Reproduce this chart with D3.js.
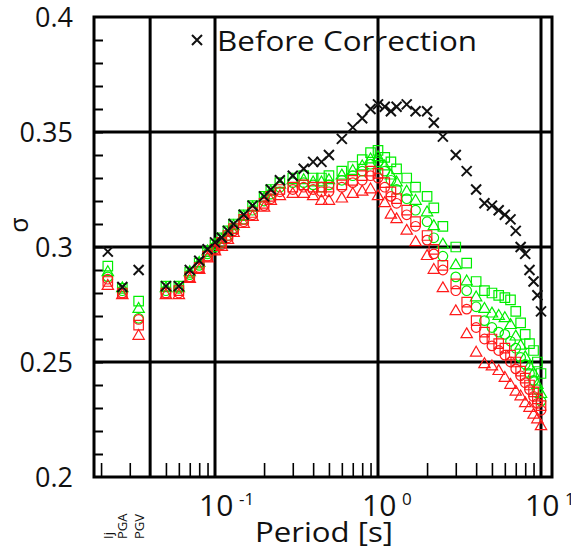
<!DOCTYPE html>
<html><head><meta charset="utf-8">
<script src="https://cdn.jsdelivr.net/npm/d3@7"></script>
<style>body{margin:0;background:#fff}svg{display:block}text{font-family:"Open Sans",sans-serif;fill:#111}</style>
</head><body>
<svg id="chart" width="571" height="552"></svg>
<script>
// ---- data ----
const periods = [0.05,0.06,0.07,0.08,0.09,0.1,0.11,0.12,0.13,0.15,0.17,0.2,0.22,0.25,0.3,0.35,0.4,0.45,0.5,0.6,0.7,0.8,0.9,1.0,1.1,1.2,1.3,1.5,1.7,2.0,2.2,2.5,3.0,3.5,4.0,4.5,5.0,5.5,6.0,6.5,7.0,7.5,8.0,8.5,9.0,9.5,10];
const beforeCorrection = [0.283,0.283,0.290,0.294,0.299,0.302,0.304,0.307,0.310,0.314,0.318,0.322,0.325,0.329,0.331,0.334,0.337,0.337,0.340,0.347,0.352,0.356,0.360,0.362,0.361,0.359,0.361,0.362,0.359,0.359,0.354,0.348,0.340,0.333,0.325,0.319,0.318,0.316,0.314,0.312,0.307,0.300,0.297,0.290,0.285,0.279,0.272];
const redTriangle = [0.279,0.279,0.286,0.290,0.295,0.298,0.300,0.303,0.306,0.310,0.313,0.317,0.320,0.322,0.323,0.323,0.322,0.320,0.320,0.321,0.323,0.324,0.325,0.322,0.319,0.314,0.312,0.307,0.302,0.296,0.290,0.282,0.272,0.262,0.254,0.249,0.248,0.246,0.243,0.240,0.237,0.235,0.232,0.230,0.227,0.225,0.222];
const redCircle = [0.280,0.280,0.287,0.291,0.296,0.299,0.301,0.304,0.307,0.311,0.314,0.318,0.321,0.324,0.325,0.326,0.325,0.324,0.324,0.326,0.328,0.329,0.331,0.330,0.326,0.322,0.319,0.314,0.309,0.303,0.297,0.290,0.281,0.273,0.265,0.260,0.257,0.255,0.253,0.250,0.247,0.244,0.241,0.238,0.235,0.232,0.229];
const redSquare = [0.280,0.281,0.287,0.291,0.296,0.299,0.302,0.305,0.308,0.312,0.315,0.319,0.322,0.325,0.326,0.327,0.326,0.326,0.326,0.327,0.329,0.331,0.333,0.332,0.328,0.324,0.321,0.316,0.311,0.305,0.299,0.292,0.284,0.276,0.268,0.263,0.260,0.258,0.256,0.253,0.250,0.246,0.243,0.240,0.237,0.234,0.231];
const greenCircle = [0.281,0.282,0.288,0.292,0.297,0.300,0.302,0.305,0.308,0.312,0.316,0.320,0.323,0.326,0.328,0.328,0.327,0.326,0.327,0.329,0.331,0.333,0.336,0.337,0.333,0.329,0.325,0.321,0.316,0.311,0.304,0.296,0.287,0.281,0.274,0.268,0.265,0.263,0.262,0.259,0.256,0.252,0.249,0.245,0.242,0.238,0.233];
const greenTriangle = [0.282,0.282,0.289,0.293,0.298,0.301,0.303,0.306,0.309,0.313,0.317,0.321,0.324,0.327,0.329,0.329,0.328,0.328,0.329,0.331,0.333,0.335,0.338,0.339,0.335,0.331,0.328,0.324,0.320,0.315,0.309,0.301,0.292,0.285,0.278,0.273,0.271,0.270,0.269,0.266,0.261,0.257,0.252,0.248,0.245,0.240,0.236];
const greenSquare = [0.283,0.283,0.289,0.293,0.298,0.301,0.304,0.307,0.310,0.314,0.318,0.322,0.325,0.328,0.330,0.331,0.330,0.330,0.331,0.333,0.335,0.338,0.341,0.342,0.339,0.337,0.334,0.330,0.326,0.322,0.317,0.309,0.300,0.293,0.285,0.281,0.280,0.279,0.278,0.277,0.272,0.267,0.262,0.258,0.255,0.250,0.245];

// intensity / PGA / PGV entries shown at the left of the period axis
const scalarLabels = ["Ij","PGA","PGV"];
const scalarSlots = [0.022,0.027,0.034];   // slot on the period axis
const scalarBefore = [0.298,0.2826,0.290];
const scalarRedTriangle = [0.283,0.279,0.2613];
const scalarRedCircle = [0.286,0.280,0.2685];
const scalarRedSquare = [0.285,0.280,0.266];
const scalarGreenCircle = [0.287,0.281,0.269];
const scalarGreenTriangle = [0.289,0.282,0.273];
const scalarGreenSquare = [0.2917,0.282,0.2765];

const yTicks = [0.2,0.25,0.3,0.35,0.4];
const yTickLabels = ["0.2","0.25","0.3","0.35","0.4"];
const xMajor = [0.1,1,10];
const xMajorExp = ["-1","0","1"];
const xGridExtra = [0.04];
const xMinor = [0.02,0.03,0.05,0.06,0.07,0.08,0.09,0.2,0.3,0.4,0.5,0.6,0.7,0.8,0.9,2,3,4,5,6,7,8,9];
const legendLabel = "Before Correction";

// ---- layout ----
const L = 94, R = 552, T = 17, B = 477;
const x = d3.scaleLog().domain([0.0181, 11.68]).range([L, R]);
const y = d3.scaleLinear().domain([0.2, 0.4]).range([B, T]);
const svg = d3.select("#chart");

const RED = "#ff1a1a", GREEN = "#00ee00";

// grid lines
svg.append("g").selectAll("line").data(yTicks.filter(v => v > 0.2 && v < 0.4)).join("line")
  .attr("x1", L).attr("x2", R).attr("y1", d => y(d)).attr("y2", d => y(d))
  .attr("stroke", "#000").attr("stroke-width", 3);
svg.append("g").selectAll("line").data(xMajor.concat(xGridExtra)).join("line")
  .attr("x1", d => x(d)).attr("x2", d => x(d)).attr("y1", T).attr("y2", B)
  .attr("stroke", "#000").attr("stroke-width", 3);

// axes with inward ticks
const yMinorTicks = d3.range(0.21, 0.395, 0.01);
svg.append("g").attr("transform", `translate(${L},0)`)
  .call(d3.axisRight(y).tickValues(yMinorTicks).tickSize(9).tickFormat(""))
  .call(g => g.select(".domain").remove())
  .call(g => g.selectAll("line").attr("stroke-width", 2));
svg.append("g").attr("transform", `translate(0,${B})`)
  .call(d3.axisTop(x).tickValues(xMinor).tickSize(14).tickFormat(""))
  .call(g => g.select(".domain").remove())
  .call(g => g.selectAll("line").attr("stroke-width", 1.6));

// frame
svg.append("rect").attr("x", L).attr("y", T).attr("width", R - L).attr("height", B - T)
  .attr("fill", "none").attr("stroke", "#000").attr("stroke-width", 3);

// y tick labels
svg.append("g").selectAll("text").data(yTicks).join("text")
  .attr("x", 73).attr("y", d => y(d)).attr("dy", "0.36em")
  .attr("text-anchor", "end").attr("font-size", 27)
  .text((d, i) => yTickLabels[i]);

// x tick labels 10^n
const xl = svg.append("g").selectAll("g").data(xMajor).join("g");
xl.append("text").attr("x", d => x(d) - 16).attr("y", 516).attr("font-size", 30).text("10");
xl.append("text").attr("x", d => x(d) + 24).attr("y", 505).attr("font-size", 17)
  .text((d, i) => xMajorExp[i]);

// scalar labels (rotated)
svg.append("g").selectAll("text").data(scalarSlots).join("text")
  .attr("transform", (d, i) => `translate(${x(d) + 5},539) rotate(-90)`)
  .attr("font-size", 13).attr("text-anchor", "start")
  .text((d, i) => scalarLabels[i]);

// axis titles
svg.append("text").attr("x", 255).attr("y", 542)
  .attr("font-size", 28).attr("textLength", 138).attr("lengthAdjust", "spacingAndGlyphs")
  .text("Period [s]");
svg.append("text").attr("transform", "translate(28,225) rotate(-90)")
  .attr("text-anchor", "middle").attr("font-size", 25).text("σ");

// markers
const crossPath = s => `M${-s},${-s}L${s},${s}M${-s},${s}L${s},${-s}`;
function markers(shape, color, ys, xs) {
  const data = xs.map((p, i) => [p, ys[i]]);
  const g = svg.append("g").attr("fill", "none").attr("stroke", color);
  let sel = g.selectAll("path").data(data).join("path")
    .attr("transform", d => `translate(${x(d[0])},${y(d[1])})`);
  if (shape === "square") sel.attr("d", d3.symbol(d3.symbolSquare, 90)()).attr("stroke-width", 1.2);
  else if (shape === "circle") sel.attr("d", d3.symbol(d3.symbolCircle, 72)()).attr("stroke-width", 1.2);
  else if (shape === "triangle") sel.attr("d", d3.symbol(d3.symbolTriangle, 56)()).attr("stroke-width", 1.2);
  else sel.attr("d", crossPath(5)).attr("stroke-width", 2);
}
const series = [
  ["square", GREEN, greenSquare, scalarGreenSquare],
  ["triangle", GREEN, greenTriangle, scalarGreenTriangle],
  ["circle", GREEN, greenCircle, scalarGreenCircle],
  ["square", RED, redSquare, scalarRedSquare],
  ["circle", RED, redCircle, scalarRedCircle],
  ["triangle", RED, redTriangle, scalarRedTriangle],
  ["cross", "#111", beforeCorrection, scalarBefore]
];
series.forEach(s => { markers(s[0], s[1], s[2], periods); markers(s[0], s[1], s[3], scalarSlots); });

// legend
svg.append("path").attr("d", crossPath(5)).attr("transform", "translate(197,40)")
  .attr("stroke", "#111").attr("stroke-width", 2).attr("fill", "none");
svg.append("text").attr("x", 217).attr("y", 51).attr("font-size", 28)
  .attr("textLength", 260).attr("lengthAdjust", "spacingAndGlyphs").text(legendLabel);
</script>
</body></html>
